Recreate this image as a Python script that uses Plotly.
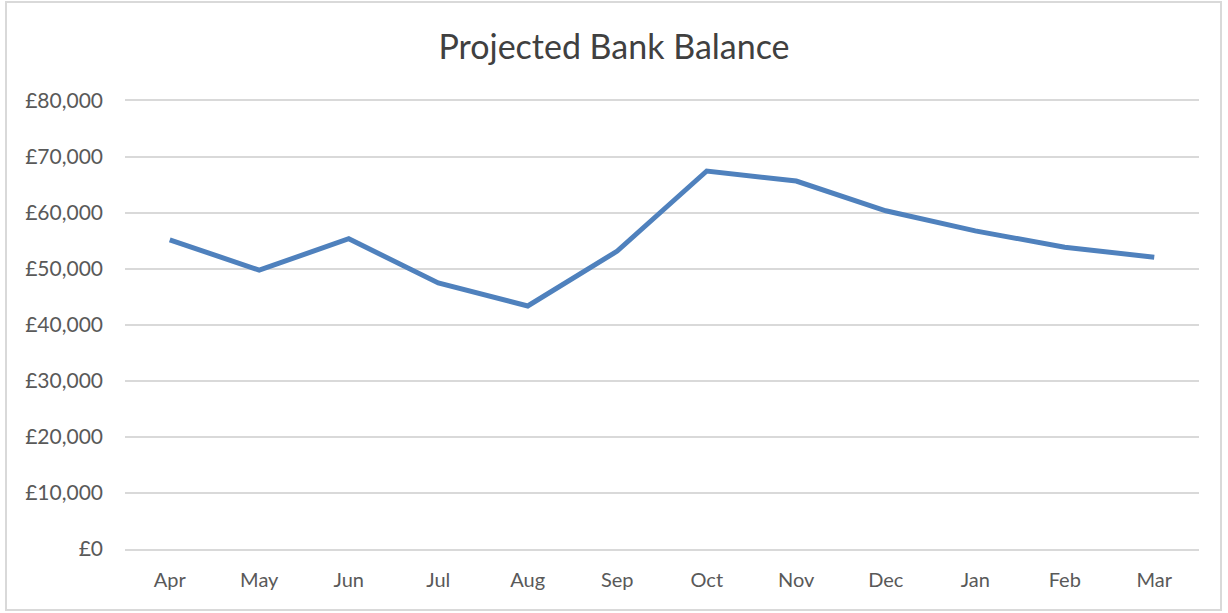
import plotly.graph_objects as go

months = ["Apr", "May", "Jun", "Jul", "Aug", "Sep", "Oct", "Nov", "Dec", "Jan", "Feb", "Mar"]
balance = [55200, 49800, 55400, 47500, 43400, 53200, 67500, 65700, 60400, 56800, 53900, 52100]
y_ticks = [0, 10000, 20000, 30000, 40000, 50000, 60000, 70000, 80000]
y_tick_labels = ["£0", "£10,000", "£20,000", "£30,000", "£40,000", "£50,000", "£60,000", "£70,000", "£80,000"]

W, H = 1228, 613
L, R, T, B = 125, 29, 101, 64
pw, ph = W - L - R, H - T - B

fig = go.Figure()
fig.add_trace(go.Scatter(
    x=months, y=balance, mode="lines",
    line=dict(color="#4F81BD", width=5),
    hoverinfo="x+y",
))

font_family = "Lato, 'Open Sans', sans-serif"
grid = "#D9D9D9"
fig.update_layout(
    width=W, height=H,
    margin=dict(l=L, r=R, t=T, b=B),
    paper_bgcolor="white", plot_bgcolor="white",
    showlegend=False,
    title=dict(text="Projected Bank Balance", x=0.5, xref="container", xanchor="center",
               y=1 - 47 / H, yanchor="middle",
               font=dict(family=font_family, size=34, color="#404040")),
    font=dict(family=font_family, size=21, color="#595959"),
    xaxis=dict(range=[-0.5, 11.5], showgrid=False, zeroline=False, ticks="",
               showline=True, mirror=True, linecolor=grid, linewidth=2,
               ticklabelstandoff=12, tickfont=dict(size=20, color="#595959")),
    yaxis=dict(range=[0, 80000], tickvals=y_ticks, ticktext=y_tick_labels,
               showgrid=True, gridcolor=grid, gridwidth=2, zeroline=False,
               showline=False, ticks="", ticklabelstandoff=21,
               tickfont=dict(size=21, color="#595959")),
)

# chart border
x0 = (6 - L) / pw
x1 = (1221 - L) / pw
y0 = (H - B - 610) / ph
y1 = (H - B - 2) / ph
fig.add_shape(type="rect", xref="paper", yref="paper", x0=x0, x1=x1, y0=y0, y1=y1,
              line=dict(color=grid, width=2), fillcolor="rgba(0,0,0,0)", layer="below")

fig.write_html("out.html", config={"displayModeBar": False},
               post_script="document.body.style.margin='0';document.body.style.overflow='hidden';")
